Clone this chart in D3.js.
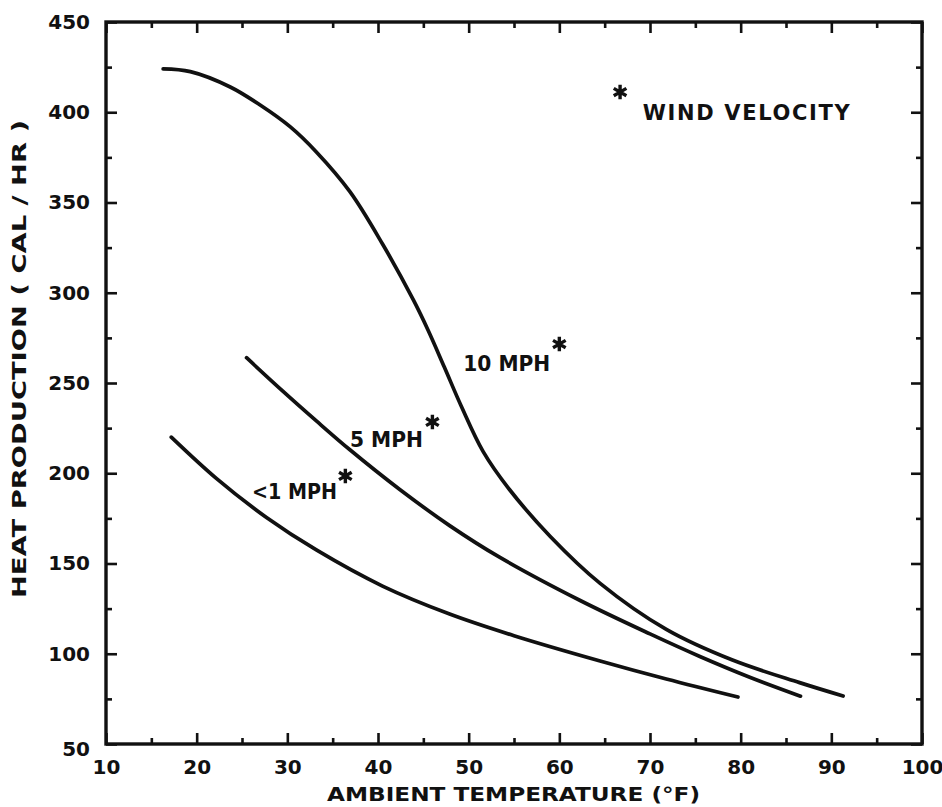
<!DOCTYPE html>
<html>
<head>
<meta charset="utf-8">
<script src="https://cdn.jsdelivr.net/npm/d3@7"></script>
<style>
  html, body { margin: 0; padding: 0; background: #fff; }
  svg { display: block; }
  text { font-family: "DejaVu Sans", sans-serif; font-weight: bold; fill: #111; }
</style>
</head>
<body>
<script>
// ---- data ----
const xTicks = [10, 20, 30, 40, 50, 60, 70, 80, 90, 100];
const yTicks = [50, 100, 150, 200, 250, 300, 350, 400, 450];

const temp10 = [16.3, 19.3, 23.7, 27.0, 30.3, 33.2, 36.9, 40.5, 43.9, 45.5, 47.3, 49.2, 51.6, 54.5, 59.0, 64.5, 71.8, 79.1, 86.5, 91.3];
const heat10 = [424, 422.5, 414, 404, 392, 378, 356, 327, 296, 279.5, 259, 237, 212, 191, 165, 139, 113.5, 96.5, 84, 76.6];

const temp5 = [25.5, 29.5, 33.2, 36.9, 42.4, 47.9, 53.4, 62.3, 70.0, 75.5, 81.0, 86.6];
const heat5 = [264, 245.5, 229, 213, 191, 171, 153.5, 129.5, 111, 98.5, 87, 76.5];

const temp1 = [17.2, 22.2, 27.7, 33.2, 40.5, 47.9, 55.0, 64.5, 71.8, 79.7];
const heat1 = [220, 197, 175.5, 157.5, 137.5, 122, 110, 96, 86, 76];

const seriesNames = ["10 MPH", "5 MPH", "<1 MPH"];
const labelTemps = [49.4, 36.9, 26.1];
const labelHeats = [256.6, 214.5, 185.7];
const starTemps = [60.0, 46.0, 36.4];
const starHeats = [271.6, 228.4, 198.5];

const noteText = "WIND VELOCITY";
const noteTemp = 69.2, noteHeat = 395.7;
const noteStarTemp = 66.7, noteStarHeat = 411.2;

const xTitle = "AMBIENT TEMPERATURE (°F)";
const yTitle = "HEAT PRODUCTION ( CAL / HR )";

// ---- drawing ----
const W = 942, H = 807;
const svg = d3.select("body").append("svg").attr("width", W).attr("height", H);

const x = d3.scaleLinear().domain([10, 100]).range([106, 922]);
const y = d3.scaleLinear().domain([50, 450]).range([744, 22]);

const minorX = d3.range(15, 100, 10);
const minorY = d3.range(75, 450, 50);

function styleAxis(g) {
  g.select(".domain").remove();
  g.selectAll(".tick line").attr("stroke", "#111").attr("stroke-width", 2.6);
  g.selectAll(".tick text").attr("font-size", 20).attr("fill", "#111")
    .attr("font-family", "DejaVu Sans, sans-serif").attr("font-weight", "bold");
}

// bottom
svg.append("g").attr("transform", `translate(0,${y(50)})`)
  .call(d3.axisBottom(x).tickValues(xTicks).tickSize(-11).tickPadding(16).tickFormat(d3.format("d")))
  .call(styleAxis);
svg.append("g").attr("transform", `translate(0,${y(50)})`)
  .call(d3.axisBottom(x).tickValues(minorX).tickSize(-6).tickFormat(""))
  .call(styleAxis);
// top
svg.append("g").attr("transform", `translate(0,${y(450)})`)
  .call(d3.axisTop(x).tickValues(xTicks).tickSize(-11).tickFormat(""))
  .call(styleAxis);
svg.append("g").attr("transform", `translate(0,${y(450)})`)
  .call(d3.axisTop(x).tickValues(minorX).tickSize(-6).tickFormat(""))
  .call(styleAxis);
// left
const leftG = svg.append("g").attr("transform", `translate(${x(10)},0)`)
  .call(d3.axisLeft(y).tickValues(yTicks).tickSize(-11).tickPadding(16).tickFormat(d3.format("d")))
  .call(styleAxis);
leftG.selectAll(".tick").filter(d => d === 50).select("text").attr("dy", "0.55em");
svg.append("g").attr("transform", `translate(${x(10)},0)`)
  .call(d3.axisLeft(y).tickValues(minorY).tickSize(-6).tickFormat(""))
  .call(styleAxis);
// right
svg.append("g").attr("transform", `translate(${x(100)},0)`)
  .call(d3.axisRight(y).tickValues(yTicks).tickSize(-11).tickFormat(""))
  .call(styleAxis);
svg.append("g").attr("transform", `translate(${x(100)},0)`)
  .call(d3.axisRight(y).tickValues(minorY).tickSize(-6).tickFormat(""))
  .call(styleAxis);

// frame
svg.append("rect")
  .attr("x", x(10)).attr("y", y(450))
  .attr("width", x(100) - x(10)).attr("height", y(50) - y(450))
  .attr("fill", "none").attr("stroke", "#111").attr("stroke-width", 3.4);

// curves
const line = d3.line()
  .x(d => x(d[0])).y(d => y(d[1]))
  .curve(d3.curveCatmullRom.alpha(0.5));
const series = [d3.zip(temp10, heat10), d3.zip(temp5, heat5), d3.zip(temp1, heat1)];
svg.append("g").selectAll("path").data(series).join("path")
  .attr("d", line)
  .attr("fill", "none").attr("stroke", "#111").attr("stroke-width", 3.7)
  .attr("stroke-linecap", "round").attr("stroke-linejoin", "round");

// series labels
const labelWidths = [87, 73, 85];
svg.append("g").selectAll("text").data(seriesNames).join("text")
  .attr("x", (d, i) => x(labelTemps[i]))
  .attr("y", (d, i) => y(labelHeats[i]))
  .attr("font-size", 21)
  .attr("textLength", (d, i) => labelWidths[i])
  .attr("lengthAdjust", "spacingAndGlyphs")
  .text(d => d);

// asterisks
const star = d3.symbol(d3.symbolAsterisk, 150);
const starPts = d3.zip(starTemps, starHeats).concat([[noteStarTemp, noteStarHeat]]);
svg.append("g").selectAll("path").data(starPts).join("path")
  .attr("transform", d => `translate(${x(d[0])},${y(d[1])})`)
  .attr("d", star)
  .attr("fill", "none").attr("stroke", "#111").attr("stroke-width", 3.4);

// note
svg.append("text")
  .attr("x", x(noteTemp)).attr("y", y(noteHeat))
  .attr("font-size", 21)
  .attr("textLength", 207).attr("lengthAdjust", "spacing")
  .text(noteText);

// axis titles
svg.append("text")
  .attr("x", 327).attr("y", 801)
  .attr("font-size", 20)
  .attr("textLength", 373).attr("lengthAdjust", "spacingAndGlyphs")
  .text(xTitle);

svg.append("text")
  .attr("transform", "translate(26,598) rotate(-90)")
  .attr("x", 0).attr("y", 0)
  .attr("font-size", 19)
  .attr("textLength", 478).attr("lengthAdjust", "spacingAndGlyphs")
  .text(yTitle);
</script>
</body>
</html>
